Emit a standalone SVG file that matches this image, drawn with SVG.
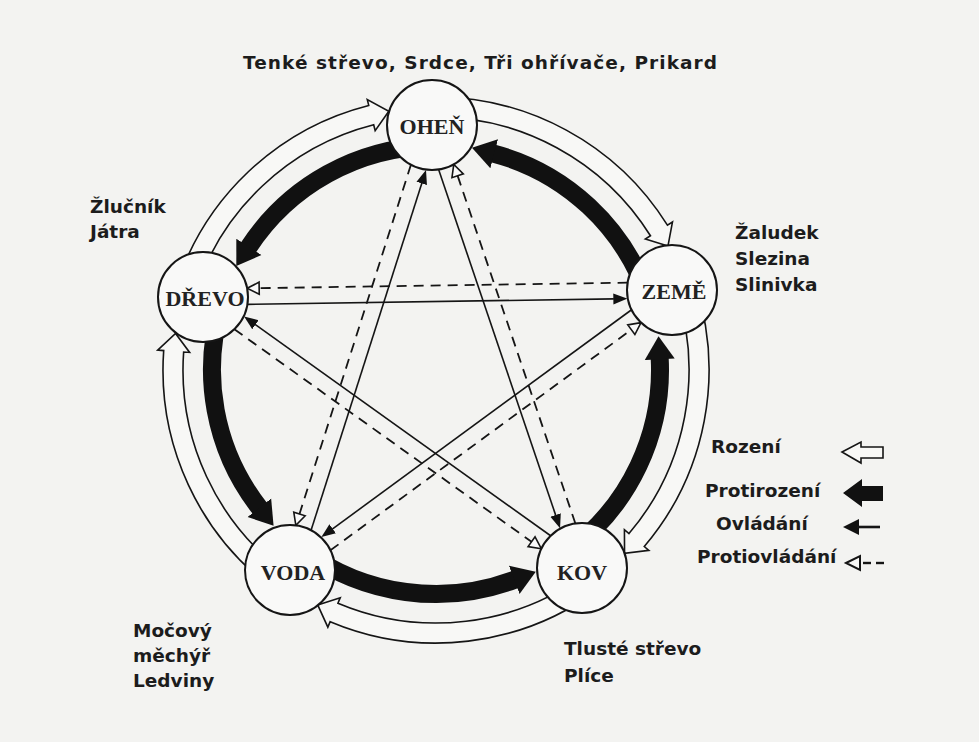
<svg xmlns="http://www.w3.org/2000/svg" width="979" height="742" viewBox="0 0 979 742">
<defs>
<style>
.bg{fill:#f3f3f1}
.node circle{fill:#f9f9f8;stroke:#151515;stroke-width:2}
.node text{font-family:"Liberation Serif","Times New Roman",serif;font-weight:bold;font-size:22px;fill:#222;text-anchor:middle}
.lbl{font-family:"DejaVu Sans",Verdana,sans-serif;font-weight:bold;font-size:18.5px;fill:#1c1c1c}
.gen{fill:#f8f8f6;stroke:#151515;stroke-width:1.6;stroke-linejoin:miter}
.cgen{fill:none;stroke:#111;stroke-width:18}
.ctl{fill:none;stroke:#151515;stroke-width:1.6}
.cctl{fill:none;stroke:#151515;stroke-width:1.8;stroke-dasharray:10 7}
</style>
<marker id="blk" markerUnits="userSpaceOnUse" viewBox="0 -16 24 32" markerWidth="24" markerHeight="32" refX="1" refY="0" orient="auto"><path d="M0,-15 L23,0 L0,15 Z" fill="#111"/></marker>
<marker id="sa" markerUnits="userSpaceOnUse" viewBox="0 -7 14 14" markerWidth="14" markerHeight="14" refX="0.5" refY="0" orient="auto"><path d="M0,-5.5 L14,0 L0,5.5 Z" fill="#111"/></marker>
<marker id="ha" markerUnits="userSpaceOnUse" viewBox="-2 -8 16 16" markerWidth="16" markerHeight="16" refX="0" refY="0" orient="auto"><path d="M0,-6 L12,0 L0,6 Z" fill="#fafafa" stroke="#151515" stroke-width="1.6" stroke-dasharray="none"/></marker>
</defs>
<rect class="bg" x="0" y="0" width="979" height="742"/>

<g id="connectors">
  <g id="rozeni">
    <path class="gen" d="M175.49,288.36 A273,273 0 0 1 368.75,105.41 L367.28,99.60 L388.80,111.27 L375.16,130.61 L373.68,124.79 A253,253 0 0 0 194.58,294.34 Z"/>
    <path class="gen" d="M431.52,97.04 A273,273 0 0 1 667.42,225.17 L672.50,221.99 L667.95,246.03 L645.38,238.97 L650.46,235.78 A253,253 0 0 0 431.85,117.03 Z"/>
    <path class="gen" d="M694.56,282.38 A273,273 0 0 1 644.25,546.53 L648.83,550.41 L624.55,553.35 L624.42,529.72 L628.99,533.59 A253,253 0 0 0 675.61,288.80 Z"/>
    <path class="gen" d="M598.00,589.74 A273,273 0 0 1 330.16,621.65 L327.84,627.18 L317.71,604.90 L340.24,597.68 L337.92,603.21 A253,253 0 0 0 586.13,573.64 Z"/>
    <path class="gen" d="M275.03,590.50 A273,273 0 0 1 163.69,350.58 L157.71,350.15 L175.56,333.40 L189.62,352.43 L183.64,352.00 A253,253 0 0 0 286.83,574.35 Z"/>
  </g>
  <g id="protirozeni">
    <path class="cgen" marker-end="url(#blk)" d="M432.33,146.03 A224,224 0 0 0 248.35,247.67"/>
    <path class="cgen" marker-end="url(#blk)" d="M648.15,298.11 A224,224 0 0 0 493.22,153.43"/>
    <path class="cgen" marker-end="url(#blk)" d="M568.92,550.30 A224,224 0 0 0 659.69,358.28"/>
    <path class="cgen" marker-end="url(#blk)" d="M303.93,550.93 A224,224 0 0 0 515.18,579.54"/>
    <path class="cgen" marker-end="url(#blk)" d="M222.25,303.01 A224,224 0 0 0 259.97,508.52"/>
  </g>
  <g id="ovladani">
    <path class="ctl" marker-end="url(#sa)" d="M247.39,304.34 L613.84,298.87"/>
    <path class="ctl" marker-end="url(#sa)" d="M631.56,309.73 L332.28,529.09"/>
    <path class="ctl" marker-end="url(#sa)" d="M311.08,530.25 L421.90,182.95"/>
    <path class="ctl" marker-end="url(#sa)" d="M438.62,169.51 L555.73,515.37"/>
    <path class="ctl" marker-end="url(#sa)" d="M550.63,535.74 L255.06,324.39"/>
  </g>
  <g id="protiovladani">
    <path class="cctl" marker-end="url(#ha)" d="M627.61,282.66 L259.16,288.16"/>
    <path class="cctl" marker-end="url(#ha)" d="M330.44,550.28 L631.34,329.72"/>
    <path class="cctl" marker-end="url(#ha)" d="M410.92,164.75 L299.49,513.95"/>
    <path class="cctl" marker-end="url(#ha)" d="M575.38,523.49 L457.63,175.75"/>
    <path class="cctl" marker-end="url(#ha)" d="M234.37,329.26 L531.57,541.77"/>
  </g>
</g>

<g id="node-ohen" class="node"><circle cx="432" cy="125" r="45"/><text x="432" y="134">OHEŇ</text></g>
<g id="node-zeme" class="node"><circle cx="672" cy="290" r="45"/><text x="674" y="299">ZEMĚ</text></g>
<g id="node-kov" class="node"><circle cx="582" cy="568" r="45"/><text x="582" y="580">KOV</text></g>
<g id="node-voda" class="node"><circle cx="290" cy="570" r="45"/><text x="293" y="580">VODA</text></g>
<g id="node-drevo" class="node"><circle cx="203" cy="297" r="45"/><text x="205" y="306">DŘEVO</text></g>

<g id="labels">
  <text class="lbl" x="243" y="69" font-size="19" textLength="474">Tenké střevo, Srdce, Tři ohřívače, Prikard</text>
  <text class="lbl" x="90" y="213">Žlučník</text>
  <text class="lbl" x="90" y="238">Játra</text>
  <text class="lbl" x="735" y="239">Žaludek</text>
  <text class="lbl" x="735" y="265">Slezina</text>
  <text class="lbl" x="735" y="291">Slinivka</text>
  <text class="lbl" x="133" y="637">Močový</text>
  <text class="lbl" x="133" y="662">měchýř</text>
  <text class="lbl" x="133" y="687">Ledviny</text>
  <text class="lbl" x="564" y="655">Tlusté střevo</text>
  <text class="lbl" x="564" y="682">Plíce</text>
</g>

<g id="legend">
  <text class="lbl" x="711" y="453">Rození</text>
  <text class="lbl" x="705" y="497">Protirození</text>
  <text class="lbl" x="716" y="530">Ovládání</text>
  <text class="lbl" x="697" y="563">Protiovládání</text>
  <polygon points="842,452 861,442 861,447 883,447 883,458 861,458 861,463" fill="#f8f8f6" stroke="#151515" stroke-width="1.6"/>
  <polygon points="843,493 862,479 862,486 883,486 883,501 862,501 862,507" fill="#111"/>
  <polygon points="843,527 859,519 859,535" fill="#111"/>
  <line x1="857" y1="527" x2="880" y2="527" stroke="#151515" stroke-width="2.6"/>
  <polygon points="846,563 860,556 860,570" fill="#f8f8f6" stroke="#151515" stroke-width="2"/>
  <line x1="863" y1="563" x2="871" y2="563" stroke="#151515" stroke-width="2.4"/>
  <line x1="876" y1="563" x2="884" y2="563" stroke="#151515" stroke-width="2.4"/>
</g>
</svg>
